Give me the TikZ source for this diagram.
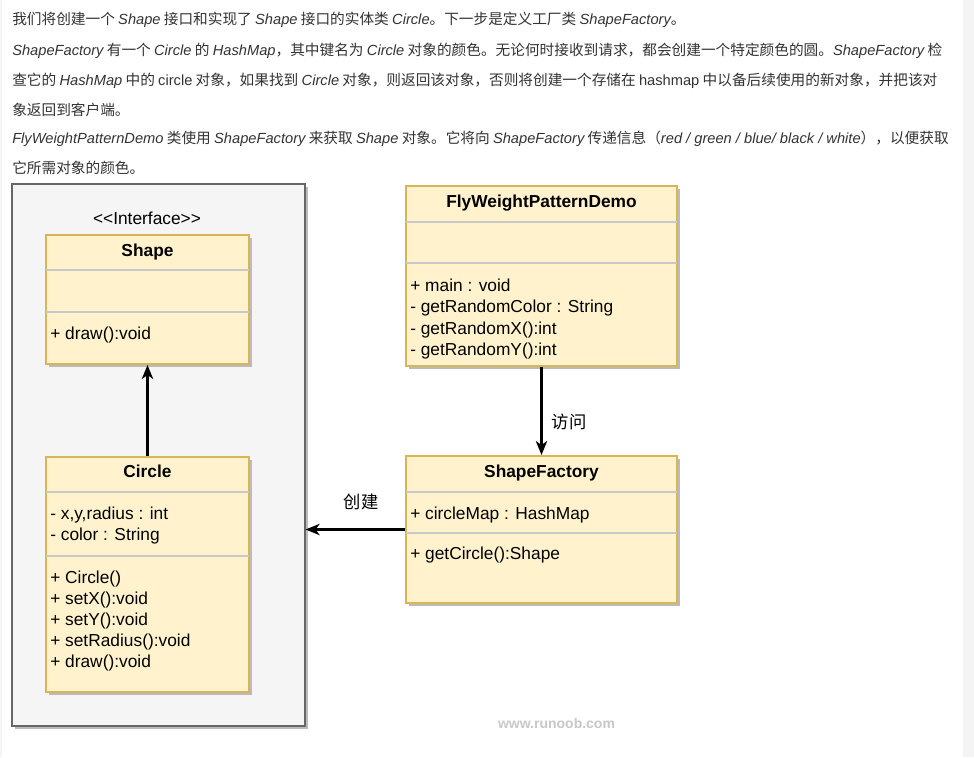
\documentclass[tikz,border=0pt]{standalone}
\usepackage{fontspec}
\setmainfont{Liberation Sans}
\newfontfamily\cjk{Noto Sans CJK SC}
\newfontfamily\lsans{Liberation Sans}
\usetikzlibrary{arrows.meta,fit,calc}
\definecolor{clsfill}{HTML}{FFF2CC}
\definecolor{clsdraw}{HTML}{D6B656}
\definecolor{contfill}{HTML}{F5F5F5}
\definecolor{contdraw}{HTML}{666666}
\definecolor{shadowc}{HTML}{BBBBBB}
\definecolor{sepc}{HTML}{C8C8C8}
\definecolor{paratext}{HTML}{333333}
\definecolor{wmc}{HTML}{C8C8C8}
\definecolor{stripc}{HTML}{F4F4F4}
\newcommand\li[1]{{\lsans\itshape #1}}
\newcommand\lu[1]{{\lsans #1}}
\begin{document}
\begin{tikzpicture}[x=0.75pt,y=-0.75pt,
  cls/.style={draw=clsdraw, fill=clsfill, line width=1.5pt, inner sep=0pt},
  cont/.style={draw=contdraw, fill=contfill, line width=0.9pt, inner sep=0pt},
  shadowbox/.style={fill=shadowc},
  sepline/.style={draw=sepc, line width=1pt},
  title/.style={font=\fontsize{13}{16}\selectfont\bfseries, inner sep=0pt, anchor=base},
  member/.style={font=\fontsize{13}{16}\selectfont, inner sep=0pt, anchor=base west},
  para/.style={font=\fontsize{11}{13}\selectfont\cjk, text=paratext, inner sep=0pt, anchor=west},
  lbl/.style={font=\fontsize{13}{16}\selectfont\cjk, inner sep=0pt},
  arr/.style={-{Stealth[length=10.5pt,width=8.5pt,inset=3pt]}, line width=1.6pt},
]
\useasboundingbox (0,0) rectangle (974,757);
\fill[white] (0,0) rectangle (974,757);
\fill[stripc] (963,0) rectangle (974,757);
\fill[stripc] (0,0) rectangle (1.5,757);

% paragraph
\node[para] (p1) at (12,20) {我们将创建一个 \li{Shape} 接口和实现了 \li{Shape} 接口的实体类 \li{Circle}。下一步是定义工厂类 \li{ShapeFactory}。};
\node[para] (p2) at (12,51) {\li{ShapeFactory} 有一个 \li{Circle} 的 \li{HashMap}，其中键名为 \li{Circle} 对象的颜色。无论何时接收到请求，都会创建一个特定颜色的圆。\li{ShapeFactory} 检};
\node[para] (p3) at (12,81) {查它的 \li{HashMap} 中的 \lu{circle} 对象，如果找到 \li{Circle} 对象，则返回该对象，否则将创建一个存储在 \lu{hashmap} 中以备后续使用的新对象，并把该对};
\node[para] (p4) at (12,110) {象返回到客户端。};
\node[para] (p5) at (12,139) {\li{FlyWeightPatternDemo} 类使用 \li{ShapeFactory} 来获取 \li{Shape} 对象。它将向 \li{ShapeFactory} 传递信息（\li{red / green / blue/ black / white}），以便获取};
\node[para] (p6) at (12,168) {它所需对象的颜色。};

% container
\fill[shadowbox] (15,187) rectangle (308,729);
\node[cont, fit={(12,184)(305,726)}] (cont) {};
\node[font=\fontsize{13}{16}\selectfont, inner sep=0pt] (iface) at (147,218) {<\kern0pt<Interface>\kern0pt>};

% Shape
\fill[shadowbox] (49,238) rectangle (252,367);
\node[cls, fit={(46,235)(249,364)}] (shape) {};
\draw[sepline] (46,270) -- (249,270);
\draw[sepline] (46,312) -- (249,312);
\node[title] (shapeT) at (147.5,256) {Shape};
\node[member] (shapeM1) at (50,339) {+ draw():void};

% Circle
\fill[shadowbox] (49,460) rectangle (252,695);
\node[cls, fit={(46,457)(249,692)}] (circle) {};
\draw[sepline] (46,492) -- (249,492);
\draw[sepline] (46,556) -- (249,556);
\node[title] (circleT) at (147.5,477) {Circle};
\node[member] (circleA1) at (50,519) {- x,y,radius : int};
\node[member] (circleA2) at (50,540) {- color : String};
\node[member] (circleM1) at (50,583.5) {+ Circle()};
\node[member] (circleM2) at (50,604.5) {+ setX():void};
\node[member] (circleM3) at (50,625.5) {+ setY():void};
\node[member] (circleM4) at (50,646.5) {+ setRadius():void};
\node[member] (circleM5) at (50,667.5) {+ draw():void};

% FlyWeightPatternDemo
\fill[shadowbox] (409,189) rectangle (680,369);
\node[cls, fit={(406,186)(677,366)}] (demo) {};
\draw[sepline] (406,222) -- (677,222);
\draw[sepline] (406,263) -- (677,263);
\node[title] (demoT) at (541.5,207.5) {FlyWeightPatternDemo};
\node[member] (demoM1) at (410,291) {+ main : void};
\node[member] (demoM2) at (410,312.5) {- getRandomColor : String};
\node[member] (demoM3) at (410,334) {- getRandomX():int};
\node[member] (demoM4) at (410,355.5) {- getRandomY():int};

% ShapeFactory
\fill[shadowbox] (409,459) rectangle (680,606);
\node[cls, fit={(406,456)(677,603)}] (factory) {};
\draw[sepline] (406,492) -- (677,492);
\draw[sepline] (406,533) -- (677,533);
\node[title] (factoryT) at (541.5,477) {ShapeFactory};
\node[member] (factoryA1) at (410,519) {+ circleMap : HashMap};
\node[member] (factoryM1) at (410,559.5) {+ getCircle():Shape};

% connectors
\draw[arr] (circle.north) -- (shape.south);
\draw[arr] (demo.south) -- (factory.north);
\node[lbl] (visit) at (569,422) {访问};
\draw[arr] (factory.west) -- (factory.west -| cont.east);
\node[lbl] (create) at (361,502) {创建};

% watermark
\node[font=\fontsize{10.5}{13}\selectfont\bfseries, text=wmc, inner sep=0pt] (wm) at (556.5,723) {www.runoob.com};
\end{tikzpicture}
\end{document}
